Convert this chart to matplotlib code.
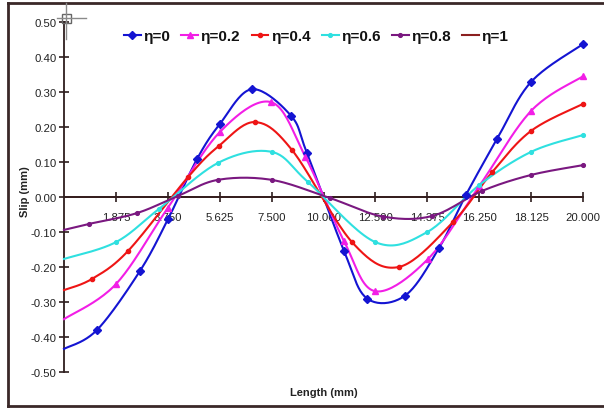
import numpy as np
import matplotlib
matplotlib.use("Agg")
import matplotlib.pyplot as plt
from matplotlib.lines import Line2D

# ---- data ----
x_eta0 = [0, 1.27, 2.93, 4.01, 5.13, 6.01, 7.24, 8.75, 9.36, 10.79, 11.68, 13.14, 14.45, 15.49, 16.69, 18.0, 20.0]
y_eta0 = [-0.434, -0.38, -0.211, -0.063, 0.109, 0.209, 0.308, 0.232, 0.126, -0.154, -0.29, -0.282, -0.146, 0.006, 0.166, 0.329, 0.437]

x_eta02 = [0, 2.0, 4.0, 6.01, 7.98, 9.3, 10.79, 11.98, 14.03, 16.0, 18.0, 20.0]
y_eta02 = [-0.349, -0.249, -0.031, 0.186, 0.271, 0.115, -0.126, -0.269, -0.177, 0.031, 0.246, 0.345]

x_eta04 = [0, 1.08, 2.47, 4.78, 5.97, 7.36, 8.79, 11.1, 12.9, 15.0, 16.5, 18.0, 20.0]
y_eta04 = [-0.266, -0.234, -0.154, 0.057, 0.146, 0.214, 0.134, -0.129, -0.2, -0.071, 0.071, 0.189, 0.266]

x_eta06 = [0, 2.0, 3.66, 5.95, 8.0, 9.4, 12.0, 14.0, 16.0, 18.0, 20.0]
y_eta06 = [-0.177, -0.129, -0.034, 0.098, 0.129, 0.043, -0.129, -0.1, 0.034, 0.129, 0.177]

x_eta08 = [0, 0.96, 2.81, 4.39, 5.93, 8.0, 10.25, 12.3, 14.2, 16.1, 18.0, 20.0]
y_eta08 = [-0.094, -0.077, -0.046, 0.003, 0.049, 0.049, -0.003, -0.056, -0.054, 0.017, 0.063, 0.091]

x_eta1 = [0, 20]
y_eta1 = [0, 0]

series_labels = ["η=0", "η=0.2", "η=0.4", "η=0.6", "η=0.8", "η=1"]

x_tick_pos = [2, 4, 6, 8, 10, 12, 14, 16, 18, 20]
x_tick_labels = ["1.875", "3.750", "5.625", "7.500", "10.000", "12.500", "14.375", "16.250", "18.125", "20.000"]
y_ticks = [-0.5, -0.4, -0.3, -0.2, -0.1, 0.0, 0.1, 0.2, 0.3, 0.4, 0.5]


def smooth(x, y, n=24):
    """Excel-style smoothed line (Catmull-Rom as cubic Bezier)."""
    P = np.column_stack([x, y]).astype(float)
    P = np.vstack([P[0], P, P[-1]])
    out = []
    t = np.linspace(0, 1, n)[:, None]
    for i in range(1, len(P) - 2):
        p0, p1, p2, p3 = P[i - 1], P[i], P[i + 1], P[i + 2]
        c1 = p1 + (p2 - p0) / 6.0
        c2 = p2 - (p3 - p1) / 6.0
        seg = (1 - t) ** 3 * p1 + 3 * (1 - t) ** 2 * t * c1 + 3 * (1 - t) * t ** 2 * c2 + t ** 3 * p2
        out.append(seg if i == 1 else seg[1:])
    return np.vstack(out)


plt.rcParams['font.family'] = ['Liberation Sans', 'DejaVu Sans']

fig = plt.figure(figsize=(6.04, 4.10), dpi=100)
ax = fig.add_axes([64 / 604, 1 - 373 / 410, 519 / 604, 350 / 410])

styles = [
    (x_eta0, y_eta0, '#1414d2', 'D', 4.2),
    (x_eta02, y_eta02, '#f21ee6', '^', 3.8),
    (x_eta04, y_eta04, '#ee1515', 'o', 3.0),
    (x_eta06, y_eta06, '#2fe0e0', 'o', 2.7),
    (x_eta08, y_eta08, '#7a1880', 'o', 2.7),
]

handles = []
for (xs, ys, col, mk, ms), lab in zip(styles, series_labels):
    s = smooth(xs, ys)
    ax.plot(s[:, 0], s[:, 1], color=col, lw=1.5, zorder=3, clip_on=False)
    ax.plot(xs[1:], ys[1:], ls='none', marker=mk, ms=ms, color=col, mec=col, zorder=4, clip_on=False)
    handles.append(Line2D([], [], color=col, lw=1.5, marker=mk, ms=ms, mec=col))

ax.plot(x_eta1, y_eta1, color='#7a1c1c', lw=1.3, zorder=2)
handles.append(Line2D([], [], color='#8b1f1f', lw=1.5))

ax.set_xlim(0, 20)
ax.set_ylim(-0.5, 0.5)

for side in ['top', 'right']:
    ax.spines[side].set_visible(False)
ax.spines['bottom'].set_position(('data', 0))
ax.spines['left'].set_position(('data', 0))
for side in ['bottom', 'left']:
    ax.spines[side].set_color('#2e1e1e')
    ax.spines[side].set_linewidth(1.3)

ax.set_xticks(x_tick_pos)
ax.set_xticklabels(x_tick_labels)
ax.set_yticks(y_ticks)
ax.set_yticklabels([f"{v:.2f}" for v in y_ticks])
ax.tick_params(axis='both', direction='inout', length=7, width=1.2, color='#2e1e1e',
               labelsize=8.2, labelcolor='#222222')
ax.tick_params(axis='x', pad=7)
ax.tick_params(axis='y', pad=2)
ax.patch.set_visible(False)

fig.text(25 / 604, 1 - 192 / 410, "Slip (mm)", rotation=90, ha='center', va='center',
         fontsize=8, fontweight='bold', color='#222222')
fig.text(324 / 604, 1 - 393 / 410, "Length (mm)", ha='center', va='center',
         fontsize=8, fontweight='bold', color='#222222')

leg = fig.legend(handles, series_labels, loc='center', bbox_to_anchor=(316 / 604, 1 - 37 / 410),
                 ncol=6, frameon=False, handlelength=1.1, handletextpad=0.15,
                 columnspacing=0.75, prop={'weight': 'bold', 'size': 11})
for t in leg.get_texts():
    t.set_color('#111111')

# outer frame
bc = '#3a2828'
fig.add_artist(Line2D([8 / 604, 1.0], [1 - 4 / 410, 1 - 4 / 410], color=bc, lw=2, transform=fig.transFigure))
fig.add_artist(Line2D([8 / 604, 1.0], [1 - 407 / 410, 1 - 407 / 410], color=bc, lw=2, transform=fig.transFigure))
fig.add_artist(Line2D([8 / 604, 8 / 604], [1 - 4 / 410, 1 - 407 / 410], color=bc, lw=2, transform=fig.transFigure))

# cursor crosshair artefact
gc = '#8a8a8a'
fig.add_artist(Line2D([57 / 604, 86 / 604], [1 - 19 / 410, 1 - 19 / 410], color=gc, lw=1, transform=fig.transFigure))
fig.add_artist(Line2D([66 / 604, 66 / 604], [1 - 4 / 410, 1 - 40 / 410], color=gc, lw=1, transform=fig.transFigure))
fig.add_artist(plt.Rectangle((62 / 604, 1 - 24 / 410), 9 / 604, 9 / 410, fill=False, ec='#666666', lw=1,
                             transform=fig.transFigure))

fig.savefig("out.png", dpi=100)
